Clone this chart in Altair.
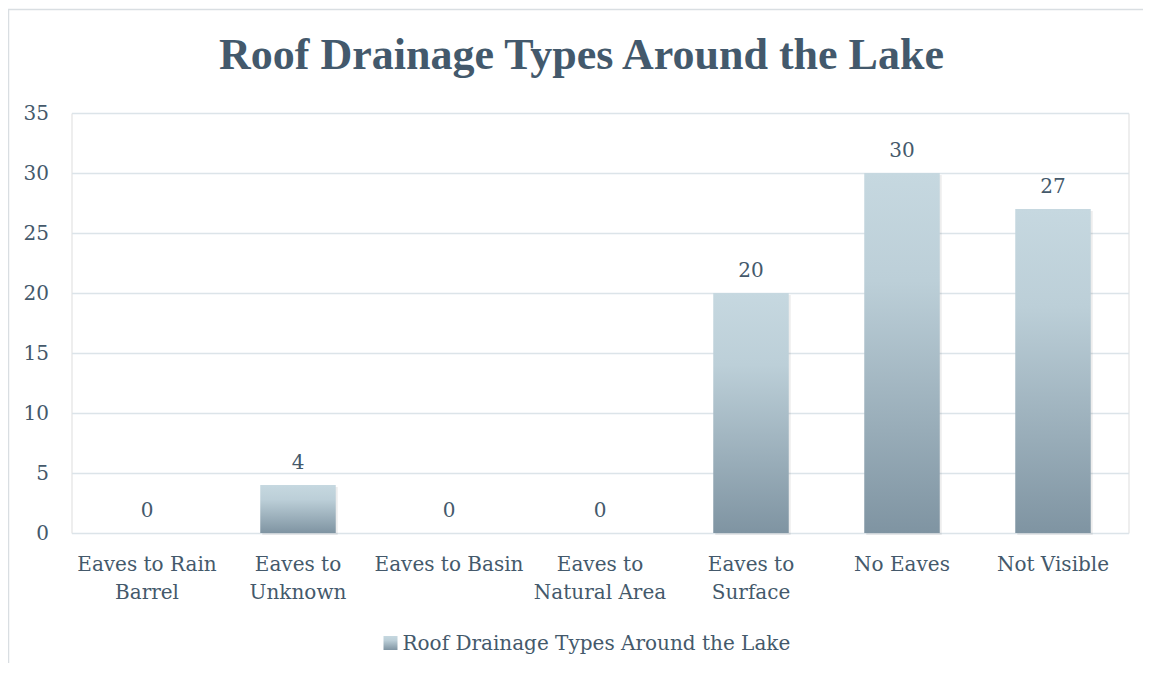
import altair as alt
import pandas as pd

# ---- data ----
categories = [
    "Eaves to Rain Barrel",
    "Eaves to Unknown",
    "Eaves to Basin",
    "Eaves to Natural Area",
    "Eaves to Surface",
    "No Eaves",
    "Not Visible",
]
counts = [0, 4, 0, 0, 20, 30, 27]
label_lines = [
    ["Eaves to Rain", "Barrel"],
    ["Eaves to", "Unknown"],
    ["Eaves to Basin"],
    ["Eaves to", "Natural Area"],
    ["Eaves to", "Surface"],
    ["No Eaves"],
    ["Not Visible"],
]
y_ticks = [0, 5, 10, 15, 20, 25, 30, 35]
series_name = "Roof Drainage Types Around the Lake"
chart_title = "Roof Drainage Types Around the Lake"

df = pd.DataFrame({"category": categories, "count": counts})
legend_df = pd.DataFrame({"series": [series_name]})
title_df = pd.DataFrame({"title": [chart_title]})

TEXT = "#44596B"
TITLE_COLOR = "#43596C"
GRID = "#DCE4E9"
FONT = "DejaVu Serif"
TFONT = "Liberation Serif"
W, H = 1057, 420

# label expression for wrapped axis labels
def js_list(lines):
    return "[" + ",".join("'" + s.replace("'", "\\'") + "'" for s in lines) + "]"

expr = "datum.label"
for cat, lines in reversed(list(zip(categories, label_lines))):
    expr = f"datum.value == '{cat}' ? {js_list(lines)} : ({expr})"

grad = alt.Gradient(
    gradient="linear",
    stops=[
        alt.GradientStop(color="#C6D8E0", offset=0),
        alt.GradientStop(color="#BCCFD8", offset=0.3),
        alt.GradientStop(color="#7F94A2", offset=1),
    ],
    x1=0, x2=0, y1=0, y2=1,
)

x_enc = alt.X(
    "category:N",
    sort=categories,
    scale=alt.Scale(paddingInner=0.5, paddingOuter=0.25),
    axis=alt.Axis(
        title=None,
        labelExpr=expr,
        labelAngle=0,
        labelFont=FONT,
        labelFontSize=20,
        labelColor=TEXT,
        labelPadding=21,
        labelLineHeight=28,
        labelBaseline="top",
        ticks=False,
        domain=False,
        grid=False,
    ),
)
y_enc = alt.Y(
    "count:Q",
    scale=alt.Scale(domain=[0, 35], nice=False),
    axis=alt.Axis(
        title=None,
        values=y_ticks,
        labelFont=FONT,
        labelFontSize=20,
        labelColor=TEXT,
        labelPadding=23,
        ticks=False,
        domain=False,
        grid=True,
        gridColor=GRID,
        gridWidth=1.5,
    ),
)

shadow = alt.Chart(df).mark_bar(color="#000000", opacity=0.07, xOffset=2, yOffset=2).encode(
    x=x_enc, y=y_enc
)
bars = alt.Chart(df).mark_bar(fill=grad).encode(x=x_enc, y=y_enc)
labels = alt.Chart(df).mark_text(
    font=FONT, fontSize=20, color=TEXT, baseline="alphabetic", dy=-16
).encode(x=alt.X("category:N", sort=categories), y="count:Q", text="count:Q")

legend_sq = alt.Chart(legend_df).mark_rect(fill=grad).encode(
    x=alt.value(312), x2=alt.value(326), y=alt.value(523), y2=alt.value(537)
)
legend_txt = alt.Chart(legend_df).mark_text(
    font=FONT, fontSize=20, color=TEXT, align="left", baseline="middle"
).encode(x=alt.value(331), y=alt.value(531), text="series:N")

title_txt = alt.Chart(title_df).mark_text(
    font=TFONT, fontSize=44, fontWeight="bold", color=TITLE_COLOR, align="center", baseline="alphabetic"
).encode(x=alt.value(510), y=alt.value(-44), text="title:N")

border_top = alt.Chart(legend_df).mark_rule(color="#D9DEE2", strokeWidth=1.5).encode(
    x=alt.value(-63.5), x2=alt.value(W + 20), y=alt.value(-103.5)
)
border_left = alt.Chart(legend_df).mark_rule(color="#D9DEE2", strokeWidth=1.5).encode(
    x=alt.value(-63), y=alt.value(-103.5), y2=alt.value(H + 140)
)

chart = (
    alt.layer(shadow, bars, labels, legend_sq, legend_txt, title_txt, border_top, border_left)
    .properties(
        width=W,
        height=H,
        autosize=alt.AutoSizeParams(type="none"),
        padding={"left": 63.5, "top": 105, "right": 14, "bottom": 130},
    )
    .configure_view(stroke=None)
    .configure(background="white")
)

chart.save("out.html", embed_options={"renderer": "svg", "actions": False})
